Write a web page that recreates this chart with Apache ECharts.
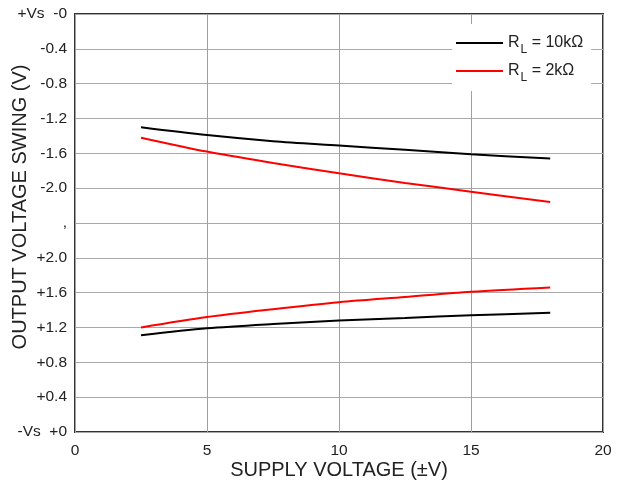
<!DOCTYPE html>
<html>
<head>
<meta charset="utf-8">
<script src="https://cdn.jsdelivr.net/npm/echarts@6/dist/echarts.min.js"></script>
<style>html,body{margin:0;padding:0;background:#fff}#c{width:622px;height:489px}</style>
</head>
<body>
<div id="c"></div>
<script>
// Supply voltage (±V)
const supply = [2.5, 5, 7.5, 10, 12.5, 15, 18];
// Swing from +Vs (V, negative = below +Vs)
const top10k = [-1.30, -1.39, -1.46, -1.51, -1.56, -1.61, -1.66];
const top2k  = [-1.42, -1.58, -1.71, -1.83, -1.94, -2.04, -2.16];
// Swing from -Vs (V)
const bot10k = [1.11, 1.19, 1.24, 1.28, 1.31, 1.34, 1.37];
const bot2k  = [1.20, 1.32, 1.41, 1.49, 1.55, 1.61, 1.66];
// Y tick labels, bottom to top
const yLabels = ['-Vs  +0', '+0.4', '+0.8', '+1.2', '+1.6', '+2.0', ',', '-2.0', '-1.6', '-1.2', '-0.8', '-0.4', '+Vs  -0'];
const xTicks = [0, 5, 10, 15, 20];
const names = ['R_L = 10kΩ', 'R_L = 2kΩ'];

const SPAN = 4.8; // full axis height in volts (12 × 0.4)
const fromTop = arr => arr.map((v, i) => [supply[i], SPAN + v]);
const fromBot = arr => arr.map((v, i) => [supply[i], v]);

const font = 'Liberation Sans, Arial, sans-serif';
const chart = echarts.init(document.getElementById('c'));
const lineSeries = (name, data, color) => ({
  name, type: 'line', data, smooth: 0.3, symbol: 'none',
  lineStyle: { color, width: 2 }, itemStyle: { color }
});
chart.setOption({
  animation: false,
  textStyle: { fontFamily: font },
  grid: { left: 75, right: 19, top: 14, bottom: 57, outerBoundsMode: 'none', containLabel: false,
    show: true, borderColor: '#333', borderWidth: 2, backgroundColor: 'transparent' },
  xAxis: {
    type: 'value', min: 0, max: 20, interval: 5,
    name: 'SUPPLY VOLTAGE (±V)', nameLocation: 'middle', nameGap: 28, nameMoveOverlap: false,
    nameTextStyle: { fontSize: 20, color: '#222', fontFamily: font },
    axisLine: { show: false }, axisTick: { show: false },
    axisLabel: { fontSize: 15.5, color: '#222', margin: 11, fontFamily: font,
      formatter: v => xTicks.includes(v) ? String(v) : '' },
    splitLine: { show: true, lineStyle: { color: '#a0a0a0', width: 1 } }
  },
  yAxis: {
    type: 'value', min: 0, max: SPAN, interval: 0.4,
    name: 'OUTPUT VOLTAGE SWING (V)', nameLocation: 'middle', nameGap: 45, nameRotate: 90, nameMoveOverlap: false,
    nameTextStyle: { fontSize: 20, color: '#222', fontFamily: font, padding: [0, 0, 0, 32] },
    axisLine: { show: false }, axisTick: { show: false },
    axisLabel: { fontSize: 15.5, color: '#222', margin: 8, fontFamily: font,
      formatter: v => yLabels[Math.round(v / 0.4)] || '' },
    splitLine: { show: true, lineStyle: { color: '#a8a8a8', width: 1 } }
  },
  legend: {
    data: names, orient: 'vertical', left: 452, top: 24,
    backgroundColor: '#fff', padding: [10, 8, 7, 4],
    itemWidth: 47, itemHeight: 2, itemGap: 6,
    icon: 'rect',
    formatter: n => n === names[0] ? '{a|R}{b|L}{a| = 10kΩ}' : '{a|R}{b|L}{a| = 2kΩ}',
    textStyle: {
      color: '#222', fontFamily: font,
      rich: {
        a: { fontSize: 16, color: '#222', fontFamily: font, height: 18, verticalAlign: 'top', lineHeight: 18 },
        b: { fontSize: 12, color: '#222', fontFamily: font, padding: [10, 0, 0, 1], verticalAlign: 'top', lineHeight: 12 }
      }
    }
  },
  series: [
    lineSeries(names[0], fromTop(top10k), '#000'),
    lineSeries(names[1], fromTop(top2k), '#ff0000'),
    lineSeries(names[0], fromBot(bot10k), '#000'),
    lineSeries(names[1], fromBot(bot2k), '#ff0000')
  ]
});
</script>
</body>
</html>
